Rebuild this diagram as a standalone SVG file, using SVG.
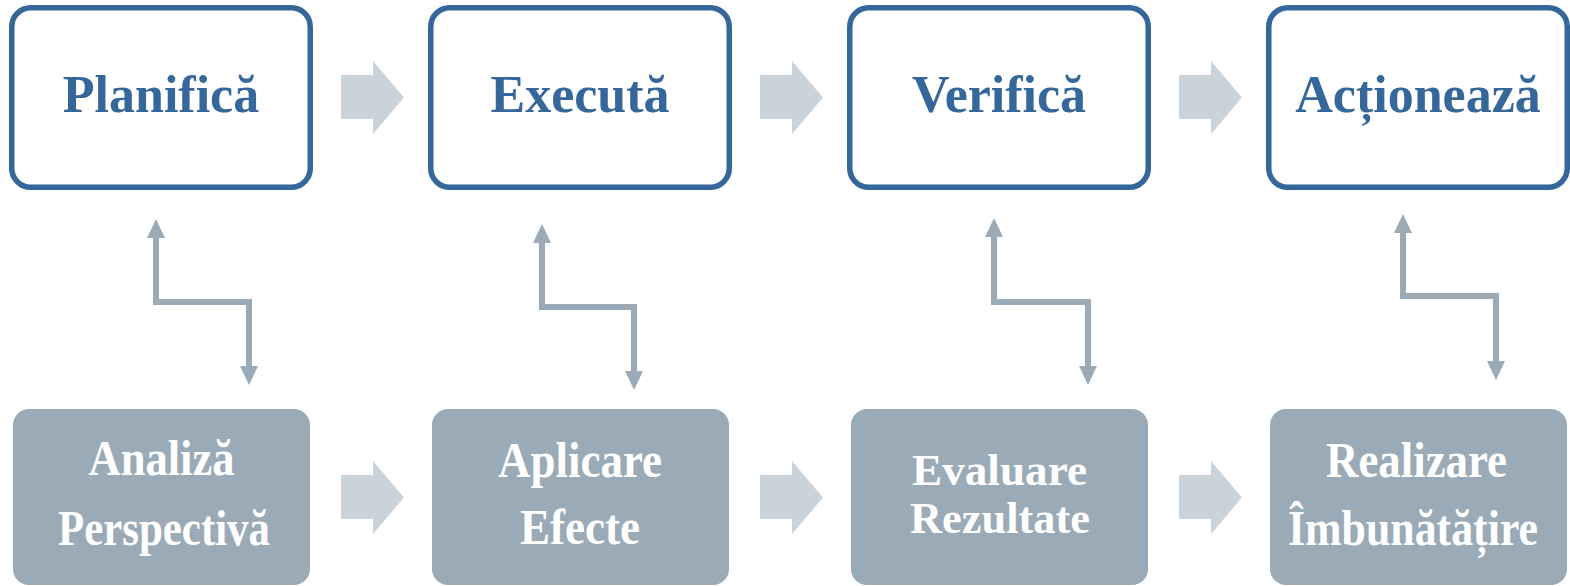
<svg xmlns="http://www.w3.org/2000/svg" width="1570" height="586" viewBox="0 0 1570 586">
<style>
.top rect{fill:#ffffff;stroke:#35679A;stroke-width:5.5}
.top text{font-family:"Liberation Serif","Times New Roman",serif;font-weight:bold;font-size:52px;fill:#35679A;text-anchor:middle}
.bot rect{fill:#9BAAB7}
.bot text{font-family:"Liberation Serif","Times New Roman",serif;font-weight:bold;font-size:50px;fill:#ffffff;text-anchor:middle}
.blk{fill:#CBD3DA}
.zz{fill:none;stroke:#9BAAB7;stroke-width:6;marker-start:url(#ah);marker-end:url(#ah)}
</style>
<defs>
<marker id="ah" markerUnits="userSpaceOnUse" markerWidth="19" markerHeight="18" refX="1" refY="9" orient="auto-start-reverse" viewBox="0 0 19 18">
<path d="M0,0 L19,9 L0,18 Z" fill="#9BAAB7"/>
</marker>
<path id="blkarrow" d="M341,75 L373,75 L373,61 L404,97.5 L373,134 L373,119 L341,119 Z"/>
</defs>
<g id="top-planifica" class="top"><rect x="11.75" y="7.75" width="298.5" height="179.5" rx="19"/><text x="161" y="112">Planifică</text></g>
<g id="top-executa" class="top"><rect x="430.75" y="7.75" width="298.5" height="179.5" rx="19"/><text x="580" y="112">Execută</text></g>
<g id="top-verifica" class="top"><rect x="849.75" y="7.75" width="298.5" height="179.5" rx="19"/><text x="999" y="112">Verifică</text></g>
<g id="top-actioneaza" class="top"><rect x="1268.75" y="7.75" width="298.5" height="179.5" rx="19"/><text x="1418" y="112">Acționează</text></g>
<g id="bot-analiza" class="bot"><rect x="13" y="409" width="297" height="176" rx="16"/><text x="161.5" y="475" textLength="146" lengthAdjust="spacingAndGlyphs">Analiză</text><text x="164" y="545" textLength="212" lengthAdjust="spacingAndGlyphs">Perspectivă</text></g>
<g id="bot-aplicare" class="bot"><rect x="432" y="409" width="297" height="176" rx="16"/><text x="580" y="477" textLength="164" lengthAdjust="spacingAndGlyphs">Aplicare</text><text x="580" y="544" textLength="120" lengthAdjust="spacingAndGlyphs">Efecte</text></g>
<g id="bot-evaluare" class="bot"><rect x="851" y="409" width="297" height="176" rx="16"/><text x="999.5" y="485" style="font-size:45px" textLength="175" lengthAdjust="spacingAndGlyphs">Evaluare</text><text x="1000" y="533" style="font-size:45px" textLength="180" lengthAdjust="spacingAndGlyphs">Rezultate</text></g>
<g id="bot-realizare" class="bot"><rect x="1270" y="409" width="297" height="176" rx="16"/><text x="1416.5" y="477" textLength="181" lengthAdjust="spacingAndGlyphs">Realizare</text><text x="1413" y="545" textLength="250" lengthAdjust="spacingAndGlyphs">Îmbunătățire</text></g>
<g id="connectors">
<use href="#blkarrow" class="blk"/>
<use href="#blkarrow" class="blk" transform="translate(419,0)"/>
<use href="#blkarrow" class="blk" transform="translate(838,0)"/>
<use href="#blkarrow" class="blk" transform="translate(0,400)"/>
<use href="#blkarrow" class="blk" transform="translate(419,400)"/>
<use href="#blkarrow" class="blk" transform="translate(838,400)"/>
<polyline class="zz" points="156,237 156,302 249,302 249,367"/>
<polyline class="zz" points="542,242 542,307 634,307 634,372"/>
<polyline class="zz" points="994,236 994,302 1088,302 1088,367"/>
<polyline class="zz" points="1403,232 1403,296 1496,296 1496,362"/>
</g>
</svg>
